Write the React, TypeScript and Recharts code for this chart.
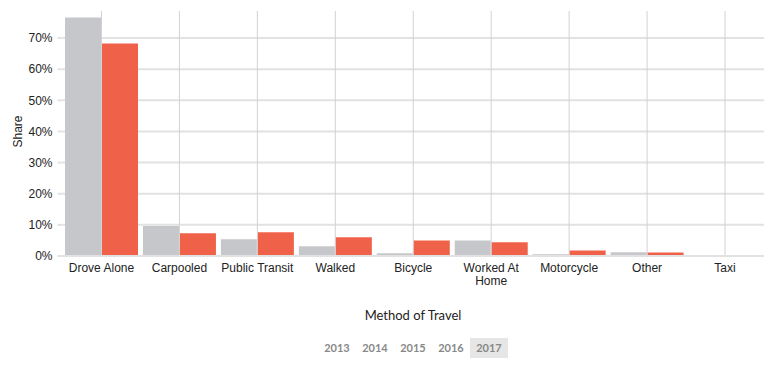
import React from "react";
import { BarChart, Bar, XAxis, YAxis, CartesianGrid } from "recharts";

const categories = [
  "Drove Alone",
  "Carpooled",
  "Public Transit",
  "Walked",
  "Bicycle",
  "Worked At Home",
  "Motorcycle",
  "Other",
  "Taxi",
];
const comparisonShare = [76.6, 9.6, 5.4, 3.1, 0.9, 5.0, 0.6, 1.2, 0.1];
const share2017 = [68.3, 7.3, 7.6, 6.0, 5.0, 4.4, 1.8, 1.1, 0.1];
const yTicks = [0, 0.1, 0.2, 0.3, 0.4, 0.5, 0.6, 0.7];
const years = ["2013", "2014", "2015", "2016", "2017"];
const selectedYear = "2017";

const tickLines: Record<string, string[]> = {
  "Worked At Home": ["Worked At", "Home"],
};

const data = categories.map((c, i) => ({
  name: c,
  comparison: comparisonShare[i] / 100,
  current: share2017[i] / 100,
}));

const FONT = '"Liberation Sans", Arial, Helvetica, sans-serif';
const FONT2 = 'Lato, "Open Sans", sans-serif';

const XTick = (props: any) => {
  const { x, y, payload } = props;
  const lines = tickLines[payload.value] || [payload.value];
  return (
    <text x={x} y={y + 16} textAnchor="middle" fontSize={12} fill="#222" fontFamily={FONT}>
      {lines.map((l: string, i: number) => (
        <tspan key={i} x={x} dy={i === 0 ? 0 : 13}>
          {l}
        </tspan>
      ))}
    </text>
  );
};

export default function App() {
  return (
    <div style={{ position: "absolute", left: 0, top: 0, width: 769, height: 366, background: "#fff" }}>
      <BarChart
        width={769}
        height={300}
        data={data}
        margin={{ top: 11, right: 5, left: 0, bottom: 14 }}
        barCategoryGap={2.5}
        barGap={1}
      >
        <CartesianGrid
          horizontal={true}
          vertical={false}
          stroke="#e2e2e2"
          strokeWidth={2}
          syncWithTicks
        />
        <CartesianGrid
          horizontal={false}
          vertical={true}
          stroke="#d2d2d2"
          strokeWidth={1}
          syncWithTicks
        />
        <XAxis
          dataKey="name"
          height={30}
          tickSize={0}
          tickMargin={0}
          tickLine={false}
          axisLine={{ stroke: "#e2e2e2", strokeWidth: 2 }}
          tick={<XTick />}
          interval={0}
        />
        <YAxis
          width={62.5}
          domain={[0, 0.787]}
          allowDataOverflow
          ticks={yTicks}
          tickFormatter={(v: number) => `${Math.round(v * 100)}%`}
          axisLine={false}
          tickLine={{ stroke: "#e2e2e2", strokeWidth: 2 }}
          tickSize={5}
          tickMargin={5}
          tick={{ fontSize: 12, fill: "#222", fontFamily: FONT }}
          label={{
            content: (p: any) => {
              const vb = p.viewBox || { x: 0, y: 11, width: 62.5, height: 245 };
              const cx = vb.x + 18;
              const cy = vb.y + vb.height / 2 - 2;
              return (
                <text
                  x={cx}
                  y={cy}
                  transform={`rotate(-90 ${cx} ${cy})`}
                  textAnchor="middle"
                  dominantBaseline="central"
                  fontSize={12}
                  fill="#222"
                  fontFamily={FONT}
                >
                  Share
                </text>
              );
            },
          }}
        />
        <Bar dataKey="comparison" fill="#c6c7ca" isAnimationActive={false} />
        <Bar dataKey="current" fill="#ef6249" isAnimationActive={false} />
      </BarChart>
      <div
        style={{
          position: "absolute",
          left: 0,
          width: 826,
          top: 307,
          textAlign: "center",
          fontFamily: FONT2,
          fontSize: 13,
          color: "#222",
        }}
      >
        Method of Travel
      </div>
      <div style={{ position: "absolute", left: 318, top: 338, display: "flex" }}>
        {years.map((y) => (
          <div
            key={y}
            style={{
              width: 38,
              height: 20,
              lineHeight: "20px",
              textAlign: "center",
              fontFamily: FONT2,
              fontWeight: 700,
              fontSize: 11,
              color: "#888",
              background: y === selectedYear ? "#e6e6e6" : "transparent",
            }}
          >
            {y}
          </div>
        ))}
      </div>
    </div>
  );
}
